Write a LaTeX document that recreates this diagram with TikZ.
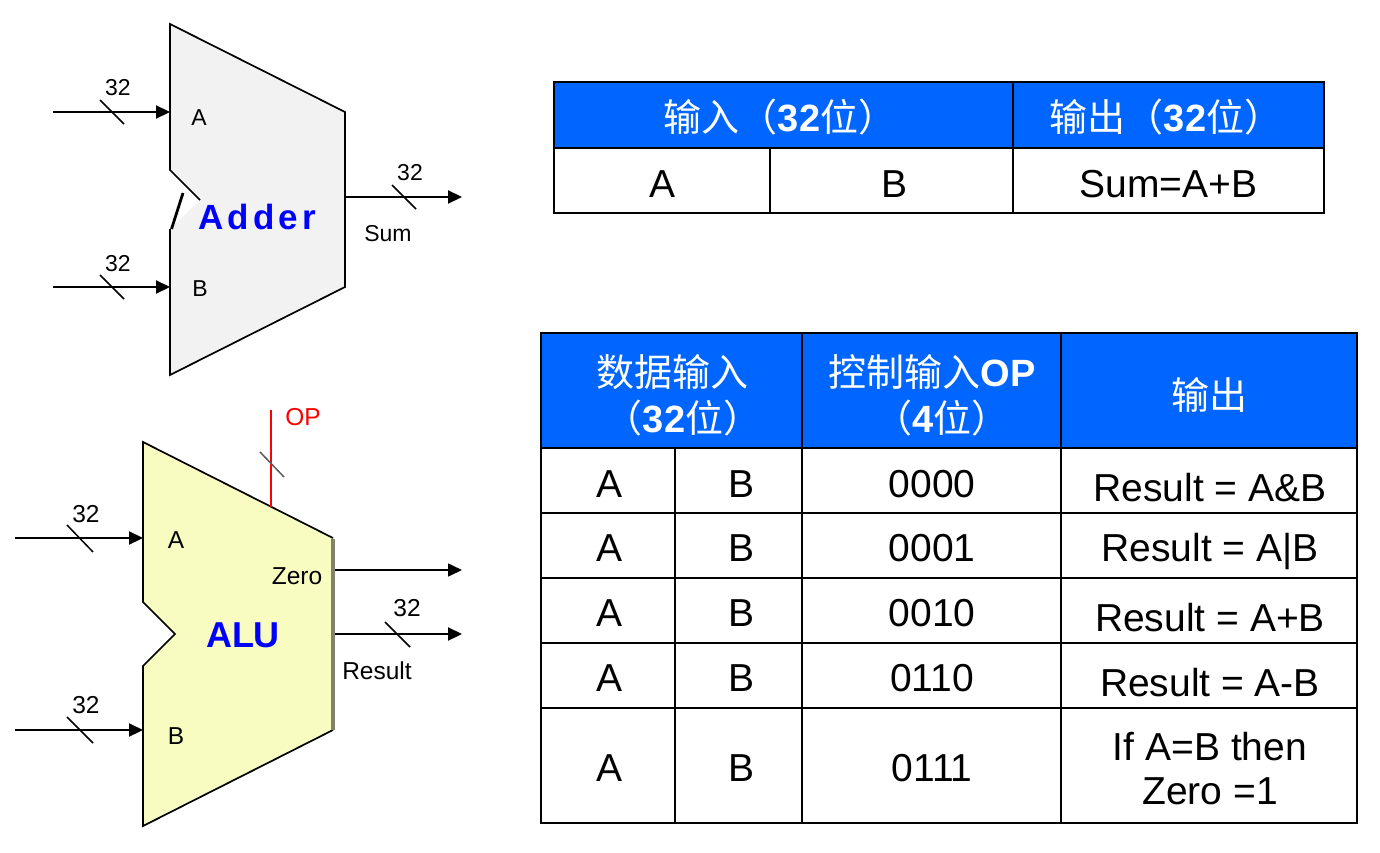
\documentclass[tikz,border=0pt]{standalone}
\usepackage{fontspec}
\setmainfont{Liberation Sans}
\newfontfamily\cjk{Noto Sans CJK SC}
\newfontfamily\spaced[LetterSpace=12]{Liberation Sans}
\usetikzlibrary{arrows.meta}
\definecolor{hdrblue}{RGB}{0,102,255}
\definecolor{adderfill}{RGB}{242,242,242}
\definecolor{alufill}{RGB}{249,252,192}
\definecolor{edgegray}{RGB}{130,130,106}
\definecolor{txtblue}{RGB}{0,0,255}
\definecolor{opred}{RGB}{255,0,0}
\definecolor{slashgray}{RGB}{90,90,90}
\tikzset{
  arr/.style={line width=2.2pt,-{Triangle[length=14pt,width=13pt]}},
  thinarr/.style={line width=1.6pt,-{Triangle[length=14pt,width=13pt]}},
  slashmark/.style={line width=1.5pt},
  outline/.style={line width=1.7pt,line join=miter},
  lbl/.style={inner sep=0pt,anchor=base},
  small/.style={lbl,font=\fontsize{23}{27}\selectfont},
  smallb/.style={lbl,font=\fontsize{24.5}{28}\selectfont},
  cell/.style={lbl,font=\fontsize{39}{46}\selectfont},
  hdr/.style={inner sep=0pt,anchor=center,text=white,align=center,font=\fontsize{38}{46}\selectfont},
  tline/.style={line width=2pt,line cap=rect}
}
\begin{document}
\begin{tikzpicture}[x=1pt,y=-1pt]
\useasboundingbox (0,0) rectangle (1380,853);

% ================= Adder =================
\fill[adderfill] (170,24) -- (345,112) -- (345,287) -- (170,375) -- (170,229) -- (200,200) -- (170,170) -- cycle;
\draw[outline] (200,200) -- (170,170) -- (170,24) -- (345,112) -- (345,287) -- (170,375) -- (170,229);
\draw[line width=2.8pt] (171.5,229) -- (183,193);
\node[lbl,text=txtblue,font=\fontsize{35}{40}\spaced\bfseries] (addername) at (257,229.5) {Adder};

\coordinate (addA) at (170,112);
\coordinate (addB) at (170,287);
\coordinate (addS) at (345,197);
\coordinate (inA1) at (53,112);
\coordinate (inB1) at (53,287);
\coordinate (outS) at (462,197);
\draw[arr] (inA1) -- (addA);
\draw[arr] (inB1) -- (addB);
\draw[arr] (addS) -- (outS);
\draw[slashmark] (100,100) -- (124,124);
\draw[slashmark] (100,275) -- (124,299);
\draw[slashmark] (392,185) -- (416,209);
\node[small] (a32a) at (118,96) {32};
\node[small] (a32b) at (118,271) {32};
\node[small] (a32s) at (410,181) {32};
\node[small] (alblA) at (199,125.5) {A};
\node[small] (alblB) at (200,296.5) {B};
\node[small] (alblS) at (388,241) {Sum};

% ================= ALU =================
\fill[alufill] (143,442) -- (333,538) -- (333,730) -- (143,826) -- (143,666) -- (175,634) -- (143,602) -- cycle;
\draw[outline] (333,538) -- (143,442) -- (143,602) -- (175,634) -- (143,666) -- (143,826) -- (333,730);
\draw[line width=4pt,edgegray] (333,539) -- (333,730);
\node[lbl,text=txtblue,font=\fontsize{36}{40}\selectfont\bfseries] (aluname) at (243,647) {ALU};

\coordinate (aluA) at (143,538);
\coordinate (aluB) at (143,730);
\coordinate (aluZ) at (335,570);
\coordinate (aluR) at (335,634);
\coordinate (aluOP) at (271,507);
\coordinate (inA2) at (15,538);
\coordinate (inB2) at (15,730);
\coordinate (outZ) at (462,570);
\coordinate (outR) at (462,634);
\coordinate (opTop) at (271,410);
\draw[arr] (inA2) -- (aluA);
\draw[arr] (inB2) -- (aluB);
\draw[thinarr] (aluZ) -- (outZ);
\draw[arr] (aluR) -- (outR);
\draw[line width=2pt,opred] (opTop) -- (aluOP);
\draw[slashmark] (67,525) -- (93,552);
\draw[slashmark] (67,717) -- (93,743);
\draw[slashmark] (385,622) -- (410,647);
\draw[slashmark,slashgray] (260,452) -- (284,477);
\node[smallb] (b32a) at (86,522) {32};
\node[smallb] (b32b) at (86,713) {32};
\node[smallb] (b32r) at (407,616) {32};
\node[smallb] (blblA) at (176,548) {A};
\node[smallb] (blblB) at (176,744) {B};
\node[smallb] (blblZ) at (297,584) {Zero};
\node[smallb] (blblR) at (377,679) {Result};
\node[smallb,text=opred] (blblOP) at (303,425) {OP};

% ================= Table 1 =================
\fill[hdrblue] (554,82) rectangle (1324,148);
\draw[tline] (554,82) rectangle (1324,213);
\draw[tline] (554,148) -- (1324,148);
\draw[tline] (1013,82) -- (1013,213);
\draw[tline] (770,148) -- (770,213);
\node[hdr] (t1h1) at (780,117) {\cjk 输入（{\rmfamily\bfseries 32}位）};
\node[hdr] (t1h2) at (1166,117) {\cjk 输出（{\rmfamily\bfseries 32}位）};
\node[cell] (t1a) at (662,197) {A};
\node[cell] (t1b) at (894,197) {B};
\node[cell] (t1s) at (1168.5,197) {Sum=A+B};

% ================= Table 2 =================
\fill[hdrblue] (541,333) rectangle (1357,448);
\draw[tline] (541,333) rectangle (1357,823);
\foreach \yy in {448,513,578,643,708} \draw[tline] (541,\yy) -- (1357,\yy);
\draw[tline] (802,333) -- (802,823);
\draw[tline] (1061,333) -- (1061,823);
\draw[tline] (675,448) -- (675,823);
\node[hdr] (t2h1) at (672,395) {\cjk 数据输入\\\cjk \hspace*{22pt}（{\rmfamily\bfseries 32}位）};
\node[hdr] (t2h2) at (932,395) {\cjk 控制输入{\rmfamily\bfseries OP}\\\cjk \hspace*{20pt}（{\rmfamily\bfseries 4}位）};
\node[hdr] (t2h3) at (1209,395) {\cjk 输出};

\node[cell] (r1a) at (609,497) {A};
\node[cell] (r1b) at (741,497) {B};
\node[cell] (r1c) at (932,497) {0000};
\node[cell] (r1d) at (1210,501) {Result = A\&B};
\node[cell] (r2a) at (609,561) {A};
\node[cell] (r2b) at (741,561) {B};
\node[cell] (r2c) at (932,561) {0001};
\node[cell] (r2d) at (1210,561) {Result = A|B};
\node[cell] (r3a) at (609,626) {A};
\node[cell] (r3b) at (741,626) {B};
\node[cell] (r3c) at (932,626) {0010};
\node[cell] (r3d) at (1210,631) {Result = A+B};
\node[cell] (r4a) at (609,691) {A};
\node[cell] (r4b) at (741,691) {B};
\node[cell] (r4c) at (932,691) {0110};
\node[cell] (r4d) at (1210,696) {Result = A-B};
\node[cell] (r5a) at (609,781) {A};
\node[cell] (r5b) at (741,781) {B};
\node[cell] (r5c) at (932,781) {0111};
\node[cell] (r5d) at (1210,760) {If A=B then};
\node[cell] (r5e) at (1210,804) {Zero =1};
\end{tikzpicture}
\end{document}
